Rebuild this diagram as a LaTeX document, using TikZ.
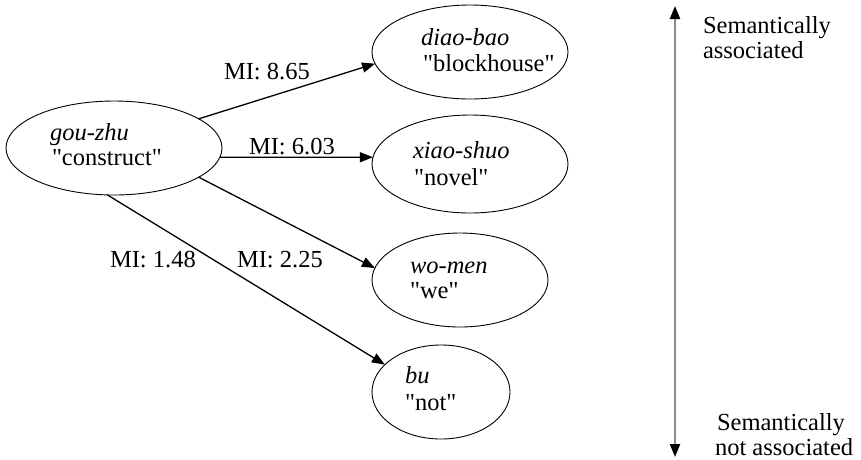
\documentclass[tikz,border=0pt]{standalone}
\usepackage{fontspec}
\setmainfont{Liberation Serif}[Ligatures=TeXOff]
\usetikzlibrary{shapes.geometric,arrows.meta}
\begin{document}
\begin{tikzpicture}[x=1pt,y=-1pt,
  word/.style={ellipse,draw,line width=0.9pt,inner sep=0pt,outer sep=0pt},
  txt/.style={inner sep=0pt,outer sep=0pt,anchor=base west,font=\fontsize{24.5}{28}\selectfont},
  link/.style={line width=1.3pt,-{Triangle[length=13pt,width=10pt]}},
  assocaxis/.style={line width=2.2pt,black!45,{Triangle[length=13pt,width=10pt,black]}-{Triangle[length=13pt,width=10pt,black]}}]
\useasboundingbox (0,0) rectangle (861,459);

% word ellipses
\node[word,minimum width=216pt,minimum height=94pt] (gz) at (114,148) {};
\node[word,minimum width=196pt,minimum height=94pt] (db) at (470,52) {};
\node[word,minimum width=196pt,minimum height=98pt] (xs) at (470,164) {};
\node[word,minimum width=176pt,minimum height=94pt] (wm) at (460,280) {};
\node[word,minimum width=138pt,minimum height=94pt] (bu) at (441,392) {};

% words and glosses
\node[txt] (gz1) at (50,140) {\textit{gou-zhu}};
\node[txt] (gz2) at (52,165) {"construct"};
\node[txt] (db1) at (421,45) {\textit{diao-bao}};
\node[txt] (db2) at (423,71) {"blockhouse"};
\node[txt] (xs1) at (413,158) {\textit{xiao-shuo}};
\node[txt] (xs2) at (414,185) {"novel"};
\node[txt] (wm1) at (410,273) {\textit{wo-men}};
\node[txt] (wm2) at (410,298) {"we"};
\node[txt] (bu1) at (405,383) {\textit{bu}};
\node[txt] (bu2) at (405,410) {"not"};

% mutual-information links
\draw[link] (gz.19) -- (db.187);
\draw[link] (gz.-5) -- (xs.176);
\draw[link] (gz.-19) -- (wm.172);
\draw[link] (gz.-98) -- (bu.154);

\node[txt] (mi1) at (224,79) {MI: 8.65};
\node[txt] (mi2) at (249,154) {MI: 6.03};
\node[txt] (mi3) at (237,267) {MI: 2.25};
\node[txt] (mi4) at (110,267) {MI: 1.48};

% semantic association scale
\coordinate (top) at (675,6);
\coordinate (bot) at (675,457);
\draw[assocaxis] (top) -- (bot);
\node[txt] (s1) at (703,33) {Semantically};
\node[txt] (s2) at (703,58) {associated};
\node[txt] (s3) at (717,430) {Semantically};
\node[txt] (s4) at (715,455) {not associated};
\end{tikzpicture}
\end{document}
